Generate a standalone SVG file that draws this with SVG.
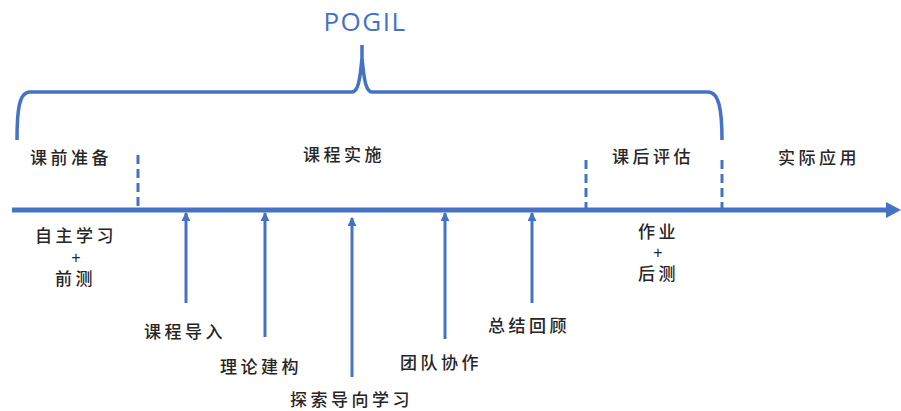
<svg xmlns="http://www.w3.org/2000/svg" width="901" height="411" viewBox="0 0 901 411">
<defs>
<marker id="ah" viewBox="0 0 10 10" refX="9" refY="5" markerWidth="3" markerHeight="3" orient="auto" markerUnits="strokeWidth"><path d="M0,0 L10,5 L0,10 z" fill="#4472C4"/></marker>
</defs>
<style>
.t{font-family:"Noto Sans CJK SC","Liberation Sans",sans-serif;font-size:17px;fill:#262626;font-weight:500;letter-spacing:3.5px}
.p{font-family:"Liberation Sans",sans-serif;font-size:16px;fill:#262626;text-anchor:middle}
.ln{stroke:#4472C4;fill:none}
.dash{stroke:#4472C4;stroke-width:3;stroke-dasharray:9,5;fill:none}
.arr{stroke:#4472C4;stroke-width:3;fill:none;marker-end:url(#ah)}
</style>
<rect width="901" height="411" fill="#fff"/>
<g id="title"><text x="365" y="31" text-anchor="middle" style="font-family:'Open Sans','Liberation Sans',sans-serif;font-size:26px;fill:#4472C4;letter-spacing:1.5px">POGIL</text></g>
<g id="connectors">
<path class="ln" stroke-width="3.5" d="M17,140 C17,110 19,92 30,92 L352,92 C358,92 360,80 362,58 L362,45 M362,58 C364,80 366,92 372,92 L708,92 C719,92 722,110 722,140"/>
<line class="ln" x1="12" y1="210" x2="888" y2="210" stroke-width="5"/>
<polygon points="886,202 901,210 886,218" fill="#4472C4"/>
<line class="dash" x1="138" y1="155" x2="138" y2="210"/>
<line class="dash" x1="586" y1="160" x2="586" y2="210"/>
<line class="dash" x1="722" y1="160" x2="722" y2="210"/>
<line class="arr" x1="186" y1="303" x2="186" y2="213"/>
<line class="arr" x1="265" y1="337" x2="265" y2="213"/>
<line class="arr" x1="352" y1="377" x2="352" y2="218"/>
<line class="arr" x1="445" y1="339" x2="445" y2="213"/>
<line class="arr" x1="532" y1="303" x2="532" y2="213"/>
</g>
<g id="phase1"><text class="t" x="30" y="164">课前准备</text></g>
<g id="phase2"><text class="t" x="303" y="161">课程实施</text></g>
<g id="phase3"><text class="t" x="612" y="163">课后评估</text></g>
<g id="phase4"><text class="t" x="778" y="164">实际应用</text></g>
<g id="pre"><text class="t" x="35" y="242">自主学习</text><text class="p" x="76" y="263">+</text><text class="t" x="55" y="285">前测</text></g>
<g id="post"><text class="t" x="638" y="238">作业</text><text class="p" x="658" y="258">+</text><text class="t" x="638" y="280">后测</text></g>
<g id="s1"><text class="t" x="144" y="338">课程导入</text></g>
<g id="s2"><text class="t" x="220" y="373">理论建构</text></g>
<g id="s3"><text class="t" x="290" y="406">探索导向学习</text></g>
<g id="s4"><text class="t" x="400" y="369">团队协作</text></g>
<g id="s5"><text class="t" x="488" y="332">总结回顾</text></g>
</svg>
